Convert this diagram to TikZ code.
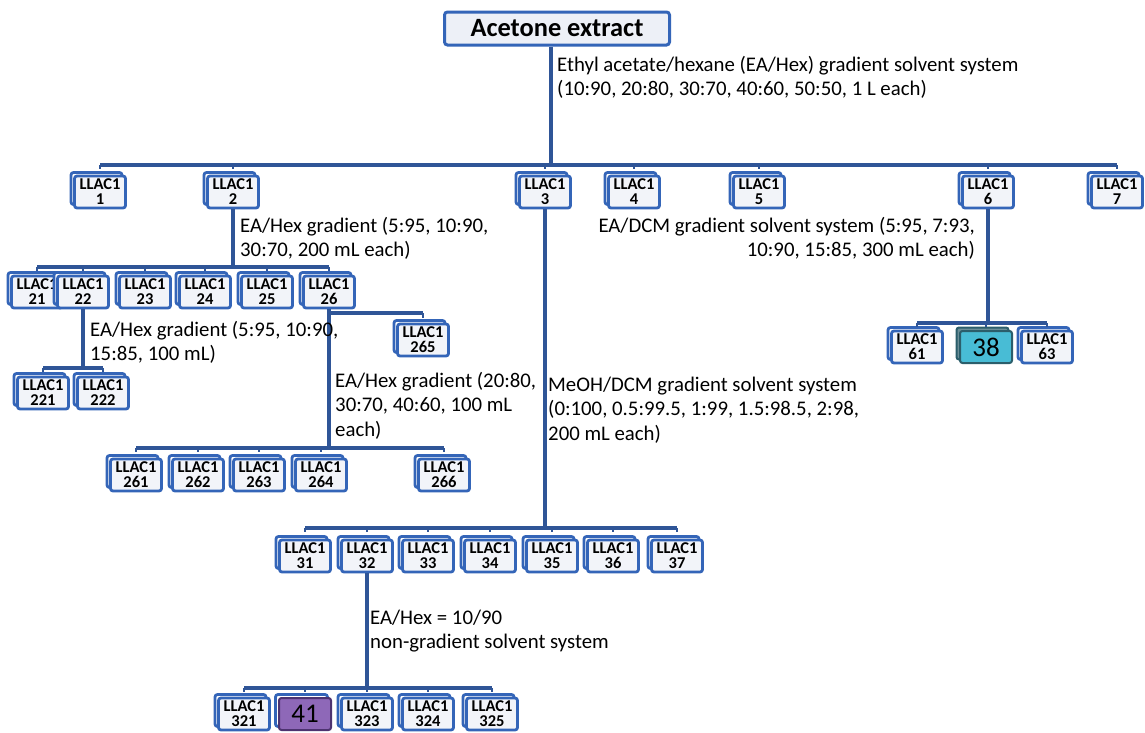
\documentclass[tikz,border=0pt]{standalone}
\usepackage{fontspec}
\setmainfont{Carlito}
\usetikzlibrary{shadows}

\definecolor{linkblue}{HTML}{2F5597}
\definecolor{boxblue}{HTML}{3465B8}
\definecolor{boxfill}{HTML}{F2F4F9}
\definecolor{extfill}{HTML}{EDF0F7}
\definecolor{tealfill}{HTML}{48BCD5}
\definecolor{tealline}{HTML}{2B5E6B}
\definecolor{violfill}{HTML}{8E68B8}
\definecolor{violline}{HTML}{4D3370}

\tikzset{
  link/.style={draw=linkblue, line width=3.2pt},
  tick/.style={draw=linkblue, line width=2.4pt},
  frac/.style={draw=boxblue, line width=2.8pt, fill=boxfill, rounded corners=2.5pt,
    minimum width=51pt, minimum height=32pt, inner sep=0pt, align=center,
    font=\bfseries\fontsize{16.5}{15}\selectfont,
    copy shadow={shadow xshift=-3.5pt, shadow yshift=3.5pt, draw=boxblue, fill=white, line width=2.8pt}},
  cmpd/.style={line width=2pt, rounded corners=2.5pt, minimum width=52pt, minimum height=32pt,
    inner sep=0pt, font=\fontsize{27}{27}\selectfont},
  extbox/.style={draw=boxblue, line width=3pt, fill=extfill, rounded corners=3pt,
    minimum width=225pt, minimum height=33pt, inner sep=0pt,
    font=\bfseries\fontsize{26.4}{26.4}\selectfont},
  note/.style={font=\fontsize{20.8}{24.5}\selectfont, inner sep=0pt, align=left, anchor=north west},
}

\begin{document}
\begin{tikzpicture}[x=1pt,y=-1pt]
\path[use as bounding box, fill=white] (0,0) rectangle (1145,732);

\node[extbox] (ext) at (557,28.5) {Acetone extract};

\node[frac] (b1) at (100,192) {LLAC1\\1};
\node[frac] (b2) at (233,192) {LLAC1\\2};
\node[frac] (b3) at (545,192) {LLAC1\\3};
\node[frac] (b4) at (634,192) {LLAC1\\4};
\node[frac] (b5) at (759,192) {LLAC1\\5};
\node[frac] (b6) at (988,192) {LLAC1\\6};
\node[frac] (b7) at (1117,192) {LLAC1\\7};

\node[frac] (b21) at (37,292) {LLAC1\\21};
\node[frac] (b22) at (83,292) {LLAC1\\22};
\node[frac] (b23) at (145,292) {LLAC1\\23};
\node[frac] (b24) at (205,292) {LLAC1\\24};
\node[frac] (b25) at (267,292) {LLAC1\\25};
\node[frac] (b26) at (329,292) {LLAC1\\26};

\node[frac] (b221) at (43,393) {LLAC1\\221};
\node[frac] (b222) at (103,393) {LLAC1\\222};

\node[frac] (b265) at (423,340) {LLAC1\\265};
\node[frac] (b261) at (136,475) {LLAC1\\261};
\node[frac] (b262) at (198,475) {LLAC1\\262};
\node[frac] (b263) at (259,475) {LLAC1\\263};
\node[frac] (b264) at (321,475) {LLAC1\\264};
\node[frac] (b266) at (444,475) {LLAC1\\266};

\node[frac] (b31) at (305,556) {LLAC1\\31};
\node[frac] (b32) at (367,556) {LLAC1\\32};
\node[frac] (b33) at (428,556) {LLAC1\\33};
\node[frac] (b34) at (490,556) {LLAC1\\34};
\node[frac] (b35) at (552,556) {LLAC1\\35};
\node[frac] (b36) at (613,556) {LLAC1\\36};
\node[frac] (b37) at (677,556) {LLAC1\\37};

\node[frac] (b61) at (917,347) {LLAC1\\61};
\node[cmpd, draw=tealline, fill=tealfill,
  copy shadow={shadow xshift=-3.5pt, shadow yshift=3.5pt, draw=tealline, fill=tealline!70}] (c38) at (986,347) {38};
\node[frac] (b63) at (1047,347) {LLAC1\\63};

\node[frac] (b321) at (244,714) {LLAC1\\321};
\node[cmpd, draw=violline, fill=violfill,
  copy shadow={shadow xshift=-3.5pt, shadow yshift=3.5pt, draw=boxblue, fill=white, line width=2.8pt}] (c41) at (305,714) {41};
\node[frac] (b323) at (367,714) {LLAC1\\323};
\node[frac] (b324) at (428,714) {LLAC1\\324};
\node[frac] (b325) at (492,714) {LLAC1\\325};

\coordinate (lv1) at (0,165);
\coordinate (lv2) at (0,267);
\coordinate (lv22) at (0,368);
\coordinate (lv265) at (0,313);
\coordinate (lv26) at (0,448);
\coordinate (lv3) at (0,528);
\coordinate (lv6) at (0,323);
\coordinate (lv32) at (0,688);

\draw[link] ([xshift=-6pt]ext.south) -- ([xshift=-6pt]ext.south |- lv1);
\draw[link] (b1.north |- lv1) -- (b7.north |- lv1);
\draw[tick]
(b1.north |- lv1) -- ++(0,4)
(b2.north |- lv1) -- ++(0,4)
(b3.north |- lv1) -- ++(0,4)
(b4.north |- lv1) -- ++(0,4)
(b5.north |- lv1) -- ++(0,4)
(b6.north |- lv1) -- ++(0,4)
(b7.north |- lv1) -- ++(0,4)
;

\draw[link] (b2.south) -- (b2.south |- lv2) (b21.north |- lv2) -- (b26.north |- lv2);
\draw[tick]
(b21.north |- lv2) -- ++(0,4)
(b22.north |- lv2) -- ++(0,4)
(b23.north |- lv2) -- ++(0,4)
(b24.north |- lv2) -- ++(0,4)
(b25.north |- lv2) -- ++(0,4)
(b26.north |- lv2) -- ++(0,4)
;

\draw[link] (b22.south) -- (b22.south |- lv22) (b221.north |- lv22) -- (b222.north |- lv22);
\draw[tick] (b221.north |- lv22) -- ++(0,4) (b222.north |- lv22) -- ++(0,4);

\draw[link] (b26.south) -- (b26.south |- lv26)
(b26.south |- lv265) -- (b265.north |- lv265)
(b261.north |- lv26) -- (b266.north |- lv26);
\draw[tick]
(b265.north |- lv265) -- ++(0,5)
(b261.north |- lv26) -- ++(0,4)
(b262.north |- lv26) -- ++(0,4)
(b263.north |- lv26) -- ++(0,4)
(b264.north |- lv26) -- ++(0,4)
(b266.north |- lv26) -- ++(0,4)
;

\draw[link] (b3.south) -- (b3.south |- lv3) (b31.north |- lv3) -- (b37.north |- lv3);
\draw[tick]
(b31.north |- lv3) -- ++(0,4)
(b32.north |- lv3) -- ++(0,4)
(b33.north |- lv3) -- ++(0,4)
(b34.north |- lv3) -- ++(0,4)
(b35.north |- lv3) -- ++(0,4)
(b36.north |- lv3) -- ++(0,4)
(b37.north |- lv3) -- ++(0,4)
;

\draw[link] (b6.south) -- (b6.south |- lv6) (b61.north |- lv6) -- (b63.north |- lv6);
\draw[tick] (b61.north |- lv6) -- ++(0,4) (c38.north |- lv6) -- ++(0,4) (b63.north |- lv6) -- ++(0,4);

\draw[link] (b32.south) -- (b32.south |- lv32) (b321.north |- lv32) -- (b325.north |- lv32);
\draw[tick]
(b321.north |- lv32) -- ++(0,4)
(c41.north |- lv32) -- ++(0,4)
(b323.north |- lv32) -- ++(0,4)
(b324.north |- lv32) -- ++(0,4)
(b325.north |- lv32) -- ++(0,4)
;

\node[note] (t1) at (557,54) {\strut Ethyl acetate/hexane (EA/Hex) gradient solvent system\\(10:90, 20:80, 30:70, 40:60, 50:50, 1 L each)};
\node[note] (t2) at (240,215) {\strut EA/Hex gradient (5:95, 10:90,\\30:70, 200 mL each)};
\node[note, anchor=north east, align=right] (t6) at (975,215) {\strut EA/DCM gradient solvent system (5:95, 7:93,\\10:90, 15:85, 300 mL each)};
\node[note] (t22) at (90,319) {\strut EA/Hex gradient (5:95, 10:90,\\15:85, 100 mL)};
\node[note] (t26) at (335,370) {\strut EA/Hex gradient (20:80,\\30:70, 40:60, 100 mL\\each)};
\node[note] (t3) at (548,374) {\strut MeOH/DCM gradient solvent system\\(0:100, 0.5:99.5, 1:99, 1.5:98.5, 2:98,\\200 mL each)};
\node[note] (t32) at (370,607) {\strut EA/Hex = 10/90\\non-gradient solvent system};
\end{tikzpicture}
\end{document}
